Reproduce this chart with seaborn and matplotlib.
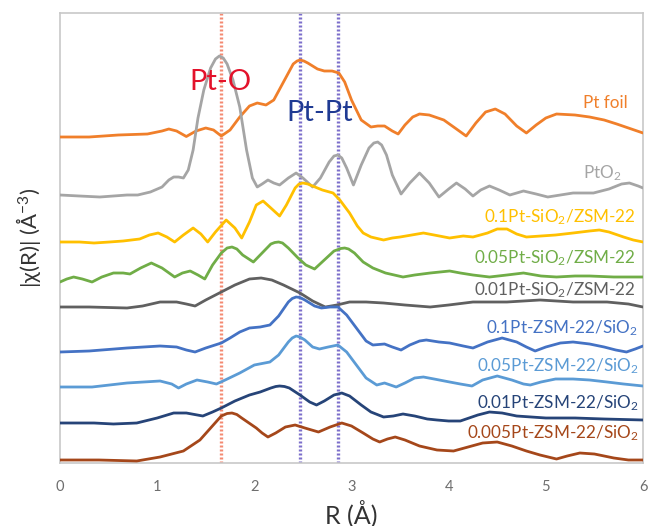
import matplotlib
matplotlib.use("Agg")
import matplotlib.pyplot as plt
import seaborn as sns
import pandas as pd

# ---- data (R in Å, offset |chi(R)| in arbitrary stacked units) ----
R_ptfoil = [0.0, 0.3, 0.6, 0.9, 1.05, 1.12, 1.2, 1.3, 1.4, 1.5, 1.58, 1.66, 1.75, 1.85, 1.95, 2.03, 2.12, 2.2, 2.3, 2.4,
            2.44, 2.47, 2.51, 2.55, 2.65, 2.72, 2.8, 2.87, 2.93, 3.0, 3.1, 3.2, 3.27, 3.34, 3.42, 3.48, 3.55, 3.63, 3.7,
            3.8, 3.95, 4.08, 4.18, 4.28, 4.38, 4.48, 4.58, 4.7, 4.8, 4.9, 5.0, 5.11, 5.3, 5.45, 5.6, 5.73, 5.85, 6.0]
Y_ptfoil = [326, 326, 328, 329, 332, 334, 332, 326.5, 332, 335, 333, 327, 333, 346, 357, 360, 358, 363, 381, 399,
            402, 403, 402, 400, 394, 392, 392, 390, 381, 363, 343, 336, 337, 337, 332, 329, 338, 346, 349,
            348, 343, 334, 327, 340, 351, 354, 349, 337, 330, 338, 345, 349, 348, 346, 343, 339, 335, 330]

R_pto2 = [0.0, 0.2, 0.41, 0.55, 0.69, 0.8, 0.93, 1.05, 1.12, 1.17, 1.22, 1.27, 1.32, 1.37, 1.42, 1.48, 1.55, 1.6, 1.64,
          1.68, 1.72, 1.78, 1.85, 1.92, 1.98, 2.03, 2.08, 2.14, 2.2, 2.26, 2.35, 2.43, 2.5, 2.6, 2.68, 2.77, 2.82, 2.86,
          2.9, 2.95, 3.02, 3.1, 3.18, 3.23, 3.27, 3.31, 3.36, 3.42, 3.51, 3.6, 3.7, 3.8, 3.9, 4.0, 4.08, 4.17, 4.25,
          4.33, 4.42, 4.52, 4.63, 4.77, 4.9, 5.02, 5.15, 5.28, 5.49, 5.65, 5.78, 5.86, 5.95, 6.0]
Y_pto2 = [268, 267, 266, 267, 268, 268, 271, 276, 283, 286, 286, 285, 293, 313, 345, 373, 395, 404, 407,
          405, 399, 383, 356, 313, 285, 276, 279, 283, 280, 278, 285, 290, 285, 276, 285, 301, 307, 308,
          305, 295, 278, 298, 315, 320, 321, 318, 308, 288, 269, 280, 290, 280, 266, 274, 280, 274, 267,
          273, 277, 273, 268, 272, 269, 266, 268, 270, 270, 274, 279, 280, 277, 275]

R_01sio2 = [0.0, 0.2, 0.35, 0.51, 0.65, 0.82, 0.92, 1.01, 1.1, 1.18, 1.27, 1.37, 1.45, 1.52, 1.6, 1.71, 1.8, 1.87, 1.95,
            2.02, 2.09, 2.17, 2.26, 2.33, 2.42, 2.46, 2.5, 2.55, 2.6, 2.7, 2.81, 2.88, 2.98, 3.06, 3.12, 3.2, 3.33,
            3.42, 3.5, 3.62, 3.74, 3.85, 4.01, 4.15, 4.25, 4.4, 4.5, 4.6, 4.7, 4.8, 4.95, 5.1, 5.28, 5.45, 5.55, 5.65,
            5.8, 5.9, 6.0]
Y_01sio2 = [221, 221, 220, 221, 222, 224, 228, 230, 226, 221, 228, 235, 229, 221, 231, 243, 235, 225, 241,
            258, 262, 255, 247, 258, 275, 279, 280, 279, 277, 273, 270, 263, 250, 237, 230, 226, 223,
            225, 226, 228, 230, 228, 225, 227, 226, 230, 234, 234, 229, 226, 227, 228, 230, 232, 233, 231,
            226, 223, 221]

R_005sio2 = [0.0, 0.07, 0.14, 0.23, 0.33, 0.43, 0.55, 0.65, 0.72, 0.83, 0.94, 1.05, 1.18, 1.26, 1.34, 1.42, 1.49, 1.57,
             1.66, 1.72, 1.77, 1.82, 1.88, 1.99, 2.08, 2.17, 2.21, 2.25, 2.29, 2.35, 2.45, 2.53, 2.62, 2.72, 2.82, 2.89,
             2.93, 2.97, 3.03, 3.12, 3.22, 3.35, 3.53, 3.65, 3.81, 3.91, 4.01, 4.12, 4.25, 4.42, 4.6, 4.77, 4.95, 5.11,
             5.3, 5.45, 5.7, 6.0]
Y_005sio2 = [181, 184, 186, 184, 181, 186, 190, 190, 189, 195, 200, 195, 186, 190, 192, 188, 184, 198,
             210, 215, 216, 214, 208, 201, 210, 219, 220.5, 221, 220, 215, 205, 198, 194, 203, 212, 214.5,
             215, 214, 210, 201, 195, 190, 186, 188, 190, 191, 192, 190, 188, 186, 188, 190, 187, 186,
             187, 187, 186, 186]

R_001sio2 = [0.0, 0.3, 0.69, 0.85, 1.03, 1.2, 1.3, 1.39, 1.5, 1.66, 1.8, 1.95, 2.07, 2.18, 2.3, 2.47, 2.6, 2.73, 2.85,
             2.98, 3.15, 3.33, 3.55, 3.81, 4.0, 4.25, 4.6, 4.94, 5.28, 5.63, 5.85, 6.0]
Y_001sio2 = [156, 156, 155, 157, 161, 161, 159, 157, 163, 171, 178, 184, 185, 183, 178, 170, 162, 156, 158,
             161, 161, 160, 158, 156, 158, 161, 161, 163, 161, 161, 159, 156]

R_01zsm = [0.0, 0.3, 0.69, 1.03, 1.2, 1.3, 1.39, 1.5, 1.66, 1.75, 1.85, 1.95, 2.06, 2.16, 2.25, 2.35, 2.39, 2.43, 2.47,
           2.52, 2.62, 2.69, 2.78, 2.86, 2.95, 3.05, 3.15, 3.22, 3.34, 3.42, 3.51, 3.6, 3.7, 3.77, 3.9, 4.01, 4.15, 4.25,
           4.4, 4.55, 4.7, 4.8, 4.89, 5.0, 5.15, 5.28, 5.45, 5.6, 5.72, 5.83, 5.92, 6.0]
Y_01zsm = [111, 112, 115, 117, 116, 113, 111, 115, 120, 125, 131, 135, 136, 138, 147, 161, 164.5, 166, 165.5,
           163, 157, 155, 156, 156, 148, 135, 122, 118, 119, 116, 113, 118, 122, 123, 121, 120, 117, 115,
           121, 125, 121, 116, 112, 116, 120, 121, 119, 116, 113, 111, 114, 117]

R_005zsm = [0.0, 0.33, 0.69, 1.03, 1.15, 1.22, 1.3, 1.41, 1.52, 1.61, 1.7, 1.85, 2.0, 2.16, 2.25, 2.35, 2.39, 2.43, 2.47,
            2.52, 2.6, 2.67, 2.76, 2.86, 2.95, 3.05, 3.15, 3.26, 3.34, 3.46, 3.55, 3.65, 3.74, 3.85, 4.01, 4.12, 4.24,
            4.35, 4.5, 4.65, 4.77, 4.84, 4.95, 5.1, 5.28, 5.45, 5.63, 5.8, 6.0]
Y_005zsm = [76, 76, 80, 82, 79, 75, 79, 83, 81, 79, 83, 90, 98, 101, 108, 121, 125, 127, 126,
            123, 116, 114, 116, 118, 111, 98, 85, 78, 80, 76, 80, 85, 86, 84, 81, 79, 77,
            83, 87, 83, 79, 78, 81, 84, 84, 83, 81, 79, 77]

R_001zsm = [0.0, 0.35, 0.55, 0.79, 1.0, 1.17, 1.3, 1.47, 1.57, 1.66, 1.8, 1.95, 2.06, 2.17, 2.22, 2.26, 2.31, 2.36, 2.47,
            2.57, 2.64, 2.72, 2.82, 2.9, 2.98, 3.1, 3.2, 3.33, 3.43, 3.53, 3.65, 3.78, 3.88, 4.0, 4.12, 4.3, 4.42, 4.55,
            4.7, 4.85, 5.0, 5.3, 5.6, 6.0]
Y_001zsm = [40, 40, 39, 40, 45, 50, 50, 47, 51, 55, 62, 68, 71, 75, 76.5, 77, 76.5, 75, 68,
            61, 58, 62, 68, 70, 67, 58, 51, 46, 47, 49, 47, 44, 43, 42, 42, 48, 51, 50,
            47, 46, 45, 45, 44, 43]

R_0005zsm = [0.0, 0.4, 0.79, 1.03, 1.27, 1.44, 1.55, 1.66, 1.72, 1.77, 1.82, 1.87, 2.02, 2.08, 2.14, 2.22, 2.32, 2.42,
             2.52, 2.66, 2.78, 2.9, 3.0, 3.12, 3.22, 3.29, 3.37, 3.45, 3.55, 3.7, 3.88, 4.05, 4.2, 4.35, 4.5, 4.65, 4.8,
             4.94, 5.11, 5.22, 5.35, 5.5, 5.7, 5.85, 6.0]
Y_0005zsm = [3, 3, 2, 6, 12, 23, 35, 47, 49.5, 50, 48.5, 45, 35, 30, 26, 30, 36, 38,
             35, 31, 36, 40, 37, 30, 24, 21, 24, 26, 23, 17, 13, 12, 16, 20, 21, 17, 12,
             8, 4, 7, 10, 9, 5, 3, 3]

series_names = ["Pt foil", "PtO2", "0.1Pt-SiO2/ZSM-22", "0.05Pt-SiO2/ZSM-22", "0.01Pt-SiO2/ZSM-22",
                "0.1Pt-ZSM-22/SiO2", "0.05Pt-ZSM-22/SiO2", "0.01Pt-ZSM-22/SiO2", "0.005Pt-ZSM-22/SiO2"]
series_labels = ["Pt foil", r"PtO$_{\mathregular{2}}$",
                 r"0.1Pt-SiO$_{\mathregular{2}}$/ZSM-22", r"0.05Pt-SiO$_{\mathregular{2}}$/ZSM-22",
                 r"0.01Pt-SiO$_{\mathregular{2}}$/ZSM-22",
                 r"0.1Pt-ZSM-22/SiO$_{\mathregular{2}}$", r"0.05Pt-ZSM-22/SiO$_{\mathregular{2}}$",
                 r"0.01Pt-ZSM-22/SiO$_{\mathregular{2}}$", r"0.005Pt-ZSM-22/SiO$_{\mathregular{2}}$"]
label_R = [5.84, 5.78, 5.93, 5.93, 5.93, 5.95, 5.95, 5.95, 5.95]
label_Y = [360, 290, 246, 205, 173, 135, 97, 60, 30]
colors = ["#F07F2A", "#A5A5A5", "#FFC000", "#70AD47", "#606060",
          "#4472C4", "#5B9BD5", "#264478", "#A5471A"]

ref_lines = [1.66, 2.47, 2.86]
ref_colors = ["#F48A72", "#7C6FCB", "#7C6FCB"]
x_ticks = [0, 1, 2, 3, 4, 5, 6]

Rs = [R_ptfoil, R_pto2, R_01sio2, R_005sio2, R_001sio2, R_01zsm, R_005zsm, R_001zsm, R_0005zsm]
Ys = [Y_ptfoil, Y_pto2, Y_01sio2, Y_005sio2, Y_001sio2, Y_01zsm, Y_005zsm, Y_001zsm, Y_0005zsm]

frames = []
for name, r, y in zip(series_names, Rs, Ys):
    frames.append(pd.DataFrame({"R": r, "chi": y, "sample": name}))
df = pd.concat(frames, ignore_index=True)

sns.set_theme(style="white")
plt.rcParams["font.family"] = ["Lato", "DejaVu Sans"]
plt.rcParams["mathtext.fontset"] = "custom"
plt.rcParams["mathtext.rm"] = "Lato"
plt.rcParams["mathtext.it"] = "Lato:italic"
plt.rcParams["mathtext.bf"] = "Lato:bold"

fig = plt.figure(figsize=(6.48, 5.26), dpi=100)
ax = fig.add_axes([60 / 648, 1 - 463 / 526, 583 / 648, 450 / 526])

for xv, c in zip(ref_lines, ref_colors):
    ax.axvline(xv, color=c, lw=2.4, ls=(0, (0.6, 0.6)), zorder=1)

sns.lineplot(data=df, x="R", y="chi", hue="sample", palette=dict(zip(series_names, colors)),
             hue_order=series_names, sort=True, estimator=None, lw=2.0, legend=False, ax=ax, zorder=3)
for line in ax.get_lines():
    line.set_solid_joinstyle("round")
    line.set_solid_capstyle("round")

for lab, xr, yv, c in zip(series_labels, label_R, label_Y, colors):
    ax.text(xr, yv, lab, color=c, ha="right", va="center", fontsize=12.3, zorder=5)

ax.text(1.65, 381, "Pt-O", color="#E3122B", ha="center", va="center", fontsize=21, zorder=5)
ax.text(2.67, 350, "Pt-Pt", color="#1F3A93", ha="center", va="center", fontsize=21, zorder=5)

ax.set_xlim(0, 6)
ax.set_ylim(0, 450)
ax.set_xticks(x_ticks)
ax.set_xticklabels([str(t) for t in x_ticks])
ax.set_yticks([])
ax.tick_params(axis="x", direction="in", length=5, width=1, color="#BFBFBF",
               labelcolor="#6E6E6E", labelsize=10.5, pad=12)
for s in ax.spines.values():
    s.set_color("#C8C8C8")
    s.set_linewidth(1.2)

ax.set_xlabel("R (Å)", fontsize=18, color="#333333", labelpad=4)
ax.set_ylabel(r"|χ(R)| (Å$^{\mathregular{-3}}$)", fontsize=16, color="#333333", labelpad=12)

fig.savefig("out.png", dpi=100)
